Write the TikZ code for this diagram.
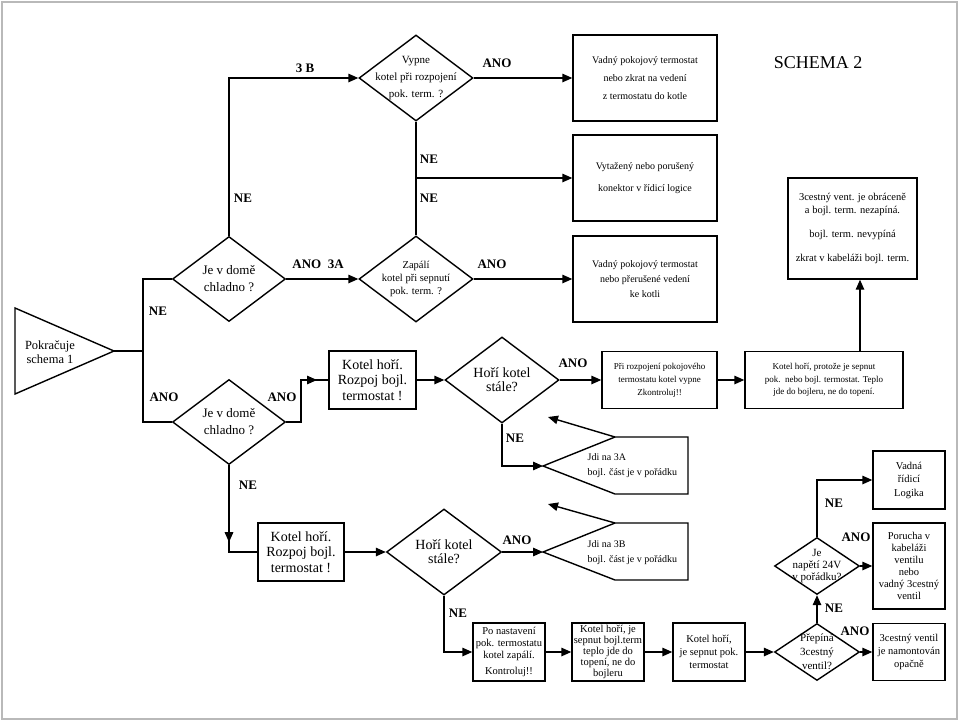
\documentclass[tikz,border=0pt]{standalone}
\usepackage{fontspec}
\setmainfont{Liberation Serif}
\usetikzlibrary{shapes.geometric,arrows.meta}
\newcommand{\fsz}[2]{\fontsize{#1}{#2}\selectfont}
\tikzset{
  box/.style 2 args={draw, rectangle, line width=1.4pt, inner sep=1pt, align=center, minimum width=#1, minimum height=#2},
  dia/.style 2 args={draw, diamond, line width=1.4pt, inner sep=0pt, minimum width=#1, minimum height=#2},
  txt/.style={align=center, inner sep=0pt},
  lab/.style={font=\fsz{13}{15}\bfseries, inner sep=0pt},
  arr/.style={-{Triangle[length=10pt,width=8.5pt]}},
}
\begin{document}
\begin{tikzpicture}[x=1pt,y=-1pt,line width=1.4pt]
\useasboundingbox (0,0) rectangle (960,723);
\draw[gray!55,line width=1.8pt] (2,2) rectangle (957,719);
\node[font=\fsz{18}{20}] (title) at (818,63) {SCHEMA 2};
% horni rada
\node[dia={114pt}{86pt}] (vyp) at (416,78) {};
\node[txt,font=\fsz{11}{17}] (vypT) at (vyp) {Vypne\\kotel při rozpojení\\pok. term. ?};
\node[box={144pt}{86pt},font=\fsz{10}{18}] (b1) at (645,78) {Vadný pokojový termostat\\nebo zkrat na vedení\\z termostatu do kotle};
\node[box={144pt}{86pt},font=\fsz{10}{22}] (b2) at (645,178) {Vytažený nebo porušený\\konektor v řídicí logice};
\node[box={144pt}{86pt},font=\fsz{10}{15}] (b3) at (645,279) {Vadný pokojový termostat\\nebo přerušené vedení\\ke kotli};
\node[box={129pt}{101pt},font=\fsz{10.5}{13}] (br) at (852.5,228.5) {3cestný vent. je obráceně\\a bojl. term. nezapíná.\\[11pt]bojl. term. nevypíná\\[11pt]zkrat v kabeláži bojl. term.};
\node[dia={113pt}{85pt}] (chl1) at (229,279) {};
\node[txt,font=\fsz{13}{17}] (chl1T) at (chl1) {Je v domě\\chladno ?};
\node[dia={114pt}{86pt}] (zap) at (416,279) {};
\node[txt,font=\fsz{10.5}{13}] (zapT) at (zap) {Zapálí\\kotel při sepnutí\\pok. term. ?};
% schema 1
\draw (15,308) -- (114,351) coordinate (tri) -- (15,394) -- cycle;
\node[txt,font=\fsz{12.5}{14}] (triT) at (50,352) {Pokračuje\\schema 1};
\coordinate (jn) at (143,351);
% stredni rada
\node[dia={113pt}{85pt}] (chl2) at (229,422) {};
\node[txt,font=\fsz{13}{17}] (chl2T) at (chl2) {Je v domě\\chladno ?};
\node[box={87pt}{58pt},font=\fsz{14}{15.5}] (k1) at (372.5,380) {Kotel hoří.\\Rozpoj bojl.\\termostat !};
\node[dia={114pt}{86pt}] (hor1) at (502,380) {};
\node[txt,font=\fsz{14}{14}] (hor1T) at (hor1) {Hoří kotel\\stále?};
\node[box={115pt}{57pt},font=\fsz{9}{13}] (p1) at (659.5,380) {Při rozpojení pokojového\\termostatu kotel vypne\\Zkontroluj!!};
\node[box={158pt}{57pt},font=\fsz{9}{12.5}] (kh) at (824,380) {Kotel hoří, protože je sepnut\\pok.\ \ nebo bojl. termostat. Teplo\\jde do bojleru, ne do topení.};
\draw (543,466) coordinate (ja) -- (615,437) coordinate (ja1) -- (688,437) -- (688,494) -- (615,494) -- cycle;
\draw[arr] (ja1) -- (548,417);
\node[txt,align=left,anchor=west,font=\fsz{10}{15}] (jaT) at (587,466) {Jdi na 3A\\bojl. část je v pořádku};
% dolni rada
\node[box={86pt}{58pt},font=\fsz{14}{15.5}] (k2) at (301,552) {Kotel hoří.\\Rozpoj bojl.\\termostat !};
\node[dia={115pt}{86pt}] (hor2) at (444,552) {};
\node[txt,font=\fsz{14}{14}] (hor2T) at (hor2) {Hoří kotel\\stále?};
\draw (543,552) coordinate (jb) -- (615,523) coordinate (jb1) -- (688,523) -- (688,580) -- (615,580) -- cycle;
\draw[arr] (jb1) -- (548,504);
\node[txt,align=left,anchor=west,font=\fsz{10}{15}] (jbT) at (587,553) {Jdi na 3B\\bojl. část je v pořádku};
\node[box={72pt}{58pt},font=\fsz{10.5}{12}] (pn) at (509,652) {Po nastavení\\pok. termostatu\\kotel zapálí.\\[4pt]Kontroluj!!};
\node[box={72pt}{58pt},font=\fsz{10.5}{11}] (kj) at (608,652) {Kotel hoří, je\\sepnut bojl.term\\teplo jde do\\topení, ne do\\bojleru};
\node[box={72pt}{58pt},font=\fsz{10.5}{13}] (ks) at (709,652) {Kotel hoří,\\je sepnut pok.\\termostat};
\node[dia={85pt}{57pt}] (prep) at (817,652) {};
\node[txt,font=\fsz{11}{14}] (prepT) at (prep) {Přepíná\\3cestný\\ventil?};
\node[box={72pt}{57pt},font=\fsz{10.5}{13}] (v3) at (909,652) {3cestný ventil\\je namontován\\opačně};
\node[dia={85pt}{57pt}] (nap) at (817,566) {};
\node[txt,font=\fsz{11}{12}] (napT) at (nap) {Je\\napětí 24V\\v pořádku?};
\node[box={72pt}{86pt},font=\fsz{10.5}{12}] (pv) at (909,566) {Porucha v\\kabeláži\\ventilu\\nebo\\vadný 3cestný\\ventil};
\node[box={72pt}{58pt},font=\fsz{10.5}{13.5}] (vl) at (909,480) {Vadná\\řídicí\\Logika};
% spoje
\draw[arr] (chl1.north) |- (vyp.west);
\draw[arr] (vyp.east) -- (b1.west);
\draw (vyp.south) -- (zap.north);
\draw[arr] (vyp.south |- b2.west) -- (b2.west);
\draw[arr] (chl1.east) -- (zap.west);
\draw[arr] (zap.east) -- (b3.west);
\draw (tri) -- (jn);
\draw (chl1.west) -| (jn) |- (chl2.west);
\coordinate (c1) at (301,380);
\draw (chl2.east) -| (c1) -- (k1.west);
\draw[arr] (c1) -- ++(16,0);
\coordinate (c2) at (229,552);
\draw (chl2.south) -- (c2) -- (k2.west);
\draw[arr] (chl2.south) -- ++(0,77);
\draw[arr] (k1.east) -- (hor1.west);
\draw[arr] (hor1.east) -- (p1.west);
\draw[arr] (p1.east) -- (kh.west);
\coordinate (brx) at (860,300);
\draw[arr] (brx |- kh.north) -- (brx |- br.south);
\draw[arr] (hor1.south) |- (ja);
\draw[arr] (k2.east) -- (hor2.west);
\draw[arr] (hor2.east) -- (jb);
\draw[arr] (hor2.south) |- (pn.west);
\draw[arr] (pn.east) -- (kj.west);
\draw[arr] (kj.east) -- (ks.west);
\draw[arr] (ks.east) -- (prep.west);
\draw[arr] (prep.east) -- (v3.west);
\draw[arr] (prep.north) -- (nap.south);
\draw[arr] (nap.east) -- (pv.west);
\draw[arr] (nap.north) |- (vl.west);
% popisky
\node[lab] (l1) at (305,68) {3 B};
\node[lab] (l2) at (243,198) {NE};
\node[lab] (l3) at (429,159) {NE};
\node[lab] (l4) at (429,198) {NE};
\node[lab] (l5) at (497,63) {ANO};
\node[lab] (l6) at (318,264) {ANO\ \ 3A};
\node[lab] (l7) at (492,264) {ANO};
\node[lab] (l8) at (158,311) {NE};
\node[lab] (l9) at (164,397) {ANO};
\node[lab] (l10) at (282,397) {ANO};
\node[lab] (l11) at (573,363) {ANO};
\node[lab] (l12) at (515,438) {NE};
\node[lab] (l13) at (248,485) {NE};
\node[lab] (l14) at (517,540) {ANO};
\node[lab] (l15) at (458,613) {NE};
\node[lab] (l16) at (834,503) {NE};
\node[lab] (l17) at (856,537) {ANO};
\node[lab] (l18) at (834,608) {NE};
\node[lab] (l19) at (855,631) {ANO};
\end{tikzpicture}
\end{document}
